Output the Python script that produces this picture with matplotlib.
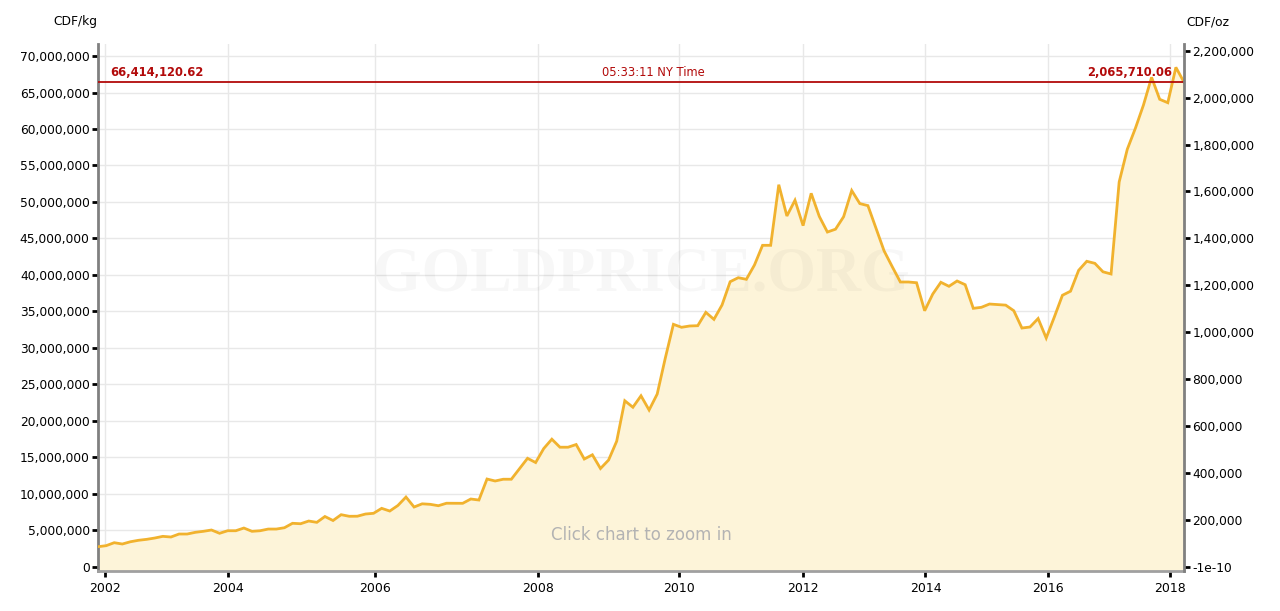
import matplotlib
matplotlib.use("Agg")
import matplotlib.pyplot as plt
from matplotlib.ticker import FuncFormatter
import numpy as np

# gold price, CDF per kg (millions), evenly spaced points as on the source chart
price_m = [
    2.73, 2.87, 3.28, 3.10, 3.41, 3.61, 3.74, 3.92, 4.15, 4.06,
    4.47, 4.47, 4.70, 4.84, 5.02, 4.57, 4.92, 4.92, 5.29, 4.84,
    4.92, 5.15, 5.15, 5.33, 5.94, 5.88, 6.25, 6.07, 6.87, 6.32,
    7.12, 6.90, 6.91, 7.21, 7.31, 7.99, 7.62, 8.38, 9.54, 8.17,
    8.61, 8.54, 8.35, 8.69, 8.69, 8.68, 9.27, 9.13, 12.01, 11.74,
    11.98, 11.98, 13.42, 14.85, 14.27, 16.19, 17.47, 16.37, 16.37, 16.74,
    14.75, 15.33, 13.45, 14.61, 17.19, 22.74, 21.85, 23.42, 21.47, 23.66,
    28.60, 33.22, 32.81, 32.99, 33.03, 34.86, 33.90, 35.87, 39.06, 39.61,
    39.39, 41.35, 44.05, 44.05, 52.36, 48.07, 50.23, 46.75, 51.18, 48.01,
    45.87, 46.26, 47.97, 51.56, 49.77, 49.49, 46.38, 43.27, 41.12, 39.02,
    39.02, 38.92, 35.08, 37.37, 38.98, 38.43, 39.16, 38.65, 35.41, 35.55,
    36.00, 35.93, 35.85, 35.08, 32.71, 32.85, 34.01, 31.34, 34.22, 37.20,
    37.76, 40.62, 41.86, 41.58, 40.42, 40.12, 52.73, 57.21, 60.09, 63.29,
    67.08, 64.07, 63.60, 68.45, 66.414120,
]
current_kg = 66414120.62
current_oz = 2065710.06
time_label = "05:33:11 NY Time"

years = [2002, 2004, 2006, 2008, 2010, 2012, 2014, 2016, 2018]
year_pos = [0.83, 16.07, 34.18, 54.26, 71.7, 86.96, 102.1, 117.2, 132.3]  # point index of Jan 1

OZ_PER_KG = 32.1507466

prices = np.array(price_m) * 1e6
x = np.arange(len(prices))

line_col = "#f1b22e"
fill_col = "#fdf4d9"
red = "#b20a0a"

fig = plt.figure(figsize=(12.8, 6.11), dpi=100)
ax = fig.add_axes([98 / 1280, 1 - 571 / 611, (1184 - 98) / 1280, (571 - 44) / 611])

ylo, yhi = -0.6e6, 71.65e6
ax.set_xlim(0, len(prices) - 1)
ax.set_ylim(ylo, yhi)

ax.fill_between(x, prices, ylo, color=fill_col, lw=0, zorder=1)
ax.plot(x, prices, color=line_col, lw=2, zorder=3, solid_joinstyle="miter")

# watermark
ax.text(0.5, 0.56, "GOLDPRICE.ORG", transform=ax.transAxes, ha="center", va="center",
        family="Liberation Serif", fontweight="bold", fontsize=45, color="#000000",
        alpha=0.03, zorder=2)
ax.text(0.5, 0.068, "Click chart to zoom in", transform=ax.transAxes, ha="center",
        va="center", fontsize=12, color="#b3b3b3", zorder=4)

# current price line
ax.axhline(current_kg, color=red, lw=1.3, zorder=4)
ax.text(0.011, current_kg + 0.5e6, "{:,.2f}".format(current_kg), transform=ax.get_yaxis_transform(),
        ha="left", va="bottom", color=red, fontsize=8.3, fontweight="bold", zorder=5)
ax.text(0.511, current_kg + 0.5e6, time_label, transform=ax.get_yaxis_transform(),
        ha="center", va="bottom", color=red, fontsize=8.3, zorder=5)
ax.text(0.989, current_kg + 0.5e6, "{:,.2f}".format(current_oz), transform=ax.get_yaxis_transform(),
        ha="right", va="bottom", color=red, fontsize=8.3, fontweight="bold", zorder=5)

# axes style
ax.set_yticks(np.arange(0, 70e6 + 1, 5e6))
ax.yaxis.set_major_formatter(FuncFormatter(lambda v, p: "{:,.0f}".format(v)))
ax.set_xticks(year_pos)
ax.set_xticklabels([str(y) for y in years])
ax.grid(True, color="#e8e8e8", lw=1, zorder=0)
ax.set_axisbelow(True)
ax.tick_params(axis="both", labelsize=8.8, colors="#000000", length=4, width=2, direction="out")
ax.tick_params(axis="y", pad=2)
ax.tick_params(axis="x", pad=4, labelsize=9)
for s in ["top", "right"]:
    ax.spines[s].set_visible(False)
ax.spines["left"].set_color("#808080")
ax.spines["left"].set_linewidth(2)
ax.spines["bottom"].set_color("#a0a0a0")
ax.spines["bottom"].set_linewidth(2)

ax2 = ax.twinx()
ax2.set_ylim(ylo / OZ_PER_KG, yhi / OZ_PER_KG)
oz_ticks = np.arange(0, 2.2e6 + 1, 2e5)
ax2.set_yticks(oz_ticks)
ax2.set_yticklabels(["-1e-10" if t == 0 else "{:,.0f}".format(t) for t in oz_ticks])
ax2.tick_params(axis="y", labelsize=8.8, length=4, width=2, pad=2)
for s in ["top", "left", "bottom"]:
    ax2.spines[s].set_visible(False)
ax2.spines["right"].set_color("#808080")
ax2.spines["right"].set_linewidth(2)

fig.text(75 / 1280, 1 - 22 / 611, "CDF/kg", ha="center", va="center", fontsize=8.8)
fig.text(1208 / 1280, 1 - 22 / 611, "CDF/oz", ha="center", va="center", fontsize=8.8)

plt.savefig("out.png", dpi=100)
